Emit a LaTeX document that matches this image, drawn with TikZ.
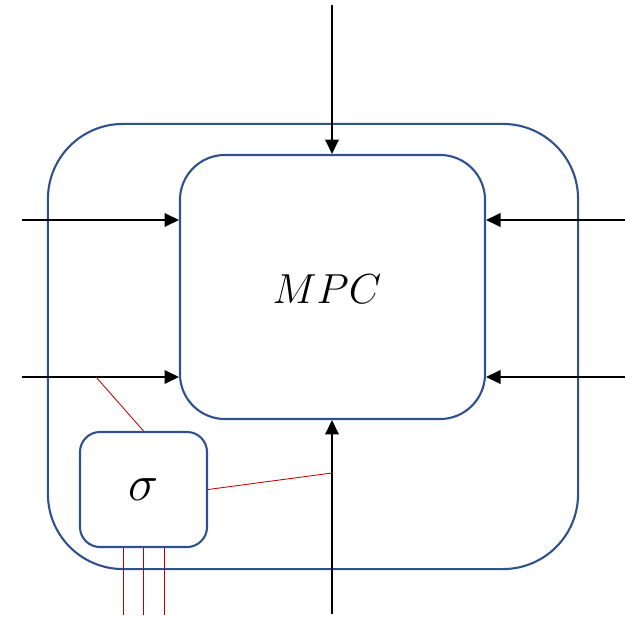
\documentclass[tikz,border=0pt]{standalone}
\usepackage{graphicx}
\usepackage{tikz}
\usetikzlibrary{arrows.meta, positioning}
\definecolor{boxblue}{RGB}{47,82,143}
\definecolor{wirered}{RGB}{192,0,0}

\begin{document}
\begin{tikzpicture}[
    x=0.025cm, y=-0.025cm,
    outerbox/.style={rectangle, draw=boxblue, line width=1.5pt, minimum width=13.25cm, minimum height=11.125cm, rounded corners=1.875cm, inner sep=0pt},
    mpcbox/.style={rectangle, draw=boxblue, line width=1.5pt, minimum width=7.625cm, minimum height=6.6cm, rounded corners=1.125cm, font=\Huge},
    actbox/.style={rectangle, draw=boxblue, line width=1.5pt, minimum width=3.175cm, minimum height=2.875cm, rounded corners=0.5cm, font=\Huge},
    arrow/.style={-{Triangle[length=3.6mm, width=3.4mm]}, line width=1.4pt, black},
    wire/.style={wirered, line width=0.6pt}
]
\useasboundingbox (0,0) rectangle (625,617);

% === Boxes ===
\node[mpcbox] (mpc) at (332.5,287) {};
\node[outerbox] (outer) at (313,346.5) {};
\node[font=\Huge] (mpc_label) at (327,289) {\scalebox{1.2}{$MPC$}};
\node[actbox] (act) at (143.5,489.5) {\scalebox{1.45}{$\sigma$}};

% === Free ends of the signals ===
\coordinate (top_in) at (332,5);
\coordinate (bot_in) at (332,614);
\coordinate (left_a) at (22,220);
\coordinate (left_b) at (22,377);
\coordinate (right_a) at (625,220);
\coordinate (right_b) at (625,377);

% === Arrows into MPC ===
\draw[arrow] (top_in) -- (mpc.north -| top_in);
\draw[arrow] (bot_in) -- (mpc.south -| bot_in);
\draw[arrow] (left_a) -- (mpc.west |- left_a);
\draw[arrow] (left_b) -- (mpc.west |- left_b);
\draw[arrow] (right_a) -- (mpc.east |- right_a);
\draw[arrow] (right_b) -- (mpc.east |- right_b);

% === Red wires of sigma ===
\coordinate (tap_left) at (96,377);
\coordinate (tap_bot) at (332,473);
\draw[wire] (tap_left) -- (act.north);
\draw[wire] (act.east) -- (tap_bot);
\foreach \dx in {-20.5, 0, 20.5}{
    \draw[wire] ([xshift=\dx*0.025cm]act.south) -- ++(0,67);
}

\end{tikzpicture}
\end{document}
